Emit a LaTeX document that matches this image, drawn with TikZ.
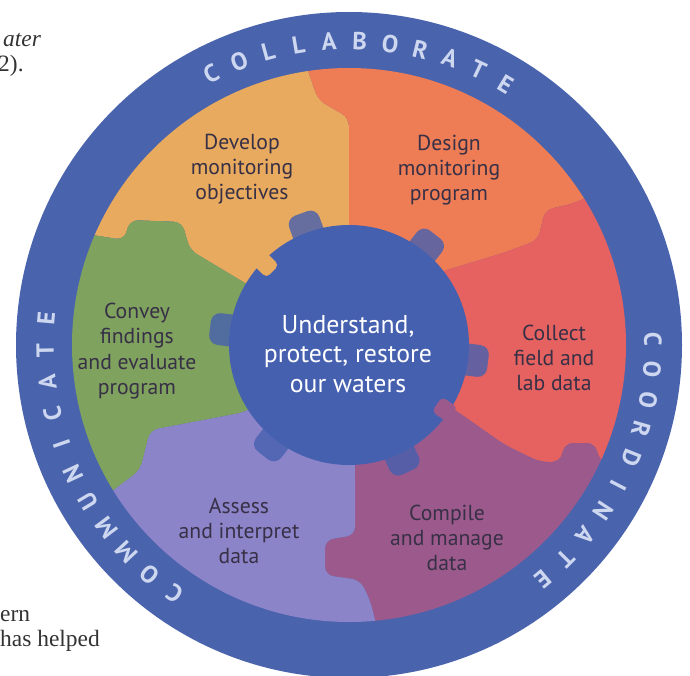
\documentclass[tikz,border=0pt]{standalone}
\usepackage{fontspec}
\setmainfont{PT Sans}
\newfontfamily\pagefont{Liberation Serif}
\definecolor{ringblue}{RGB}{74,99,173}
\definecolor{gearblue}{RGB}{70,96,176}
\definecolor{segyellow}{RGB}{232,170,94}
\definecolor{segorange}{RGB}{238,125,86}
\definecolor{segred}{RGB}{229,98,96}
\definecolor{segpurple}{RGB}{156,90,140}
\definecolor{seglavender}{RGB}{140,132,200}
\definecolor{seggreen}{RGB}{127,162,94}
\definecolor{ringink}{RGB}{205,215,240}
\definecolor{labelink}{RGB}{55,48,70}
\begin{document}
\begin{tikzpicture}[x=0.03cm, y=-0.03cm,
	piece/.style={rounded corners=7pt},
	steptext/.style={font=\fontsize{18.5}{21.5}\selectfont, text=labelink, align=center},
	hubtext/.style={font=\fontsize{22}{25}\selectfont, text=white, align=center},
	ringletter/.style={font=\bfseries\fontsize{21}{21}\selectfont, text=ringink, inner sep=0pt},
	pagetext/.style={font=\pagefont\fontsize{20}{24}\selectfont, text=black!80, anchor=base west, inner sep=0pt}]
	\useasboundingbox ( 0, 0 ) rectangle ( 690, 676 );

	% outer ring
	\fill [ringblue] ( 349, 345 ) circle [radius=333];

	% six puzzle pieces
	\begin{scope}
		\clip ( 349, 345 ) circle [radius=277];
		\fill [segyellow, piece] ( 349, 345 ) -- ( 240, 280 ) -- ( 190, 250 ) -- ( 182, 222 ) -- ( 130, 220 ) -- ( 124, 240 ) -- ( 0, 220 ) -- ( 0, 0 ) -- ( 300, 0 ) -- ( 305, 62 ) -- ( 318, 100 ) -- ( 349, 118 ) -- cycle;
		\fill [segorange, piece] ( 349, 345 ) -- ( 349, 118 ) -- ( 318, 100 ) -- ( 305, 62 ) -- ( 300, 0 ) -- ( 700, 0 ) -- ( 700, 130 ) -- ( 640, 170 ) -- ( 575, 203 ) -- ( 545, 210 ) -- ( 538, 240 ) -- ( 503, 253 ) -- ( 440, 272 ) -- cycle;
		\fill [segred, piece] ( 349, 345 ) -- ( 440, 272 ) -- ( 503, 253 ) -- ( 538, 240 ) -- ( 545, 210 ) -- ( 575, 203 ) -- ( 640, 170 ) -- ( 700, 130 ) -- ( 720, 480 ) -- ( 600, 462 ) -- ( 595, 443 ) -- ( 565, 443 ) -- ( 560, 462 ) -- ( 540, 462 ) -- ( 505, 445 ) -- ( 455, 410 ) -- cycle;
		\fill [segpurple, piece] ( 349, 345 ) -- ( 455, 410 ) -- ( 505, 445 ) -- ( 540, 462 ) -- ( 560, 462 ) -- ( 565, 443 ) -- ( 595, 443 ) -- ( 600, 462 ) -- ( 720, 480 ) -- ( 720, 700 ) -- ( 395, 700 ) -- ( 370, 600 ) -- ( 360, 580 ) -- ( 325, 575 ) -- ( 325, 540 ) -- ( 355, 535 ) -- ( 355, 470 ) -- cycle;
		\fill [seglavender, piece] ( 349, 345 ) -- ( 355, 470 ) -- ( 355, 535 ) -- ( 325, 540 ) -- ( 325, 575 ) -- ( 360, 580 ) -- ( 370, 600 ) -- ( 395, 700 ) -- ( 0, 700 ) -- ( 0, 560 ) -- ( 100, 500 ) -- ( 140, 470 ) -- ( 150, 430 ) -- ( 245, 412 ) -- cycle;
		\fill [seggreen, piece] ( 349, 345 ) -- ( 245, 412 ) -- ( 150, 430 ) -- ( 140, 470 ) -- ( 100, 500 ) -- ( 0, 560 ) -- ( 0, 220 ) -- ( 124, 240 ) -- ( 130, 220 ) -- ( 182, 222 ) -- ( 190, 250 ) -- ( 240, 280 ) -- cycle;
	\end{scope}

	% hub gear and ring words
	\begin{scope}[shift={( 349, 345 )}, y=0.03cm]
		\foreach \a in {110,52,-7,-65,-128,173}
			\fill [gearblue, fill opacity=0.8, rotate=\a, rounded corners=8pt] ( 100, -16 ) rectangle ( 140, 16 );
		\fill [gearblue] ( 0, 0 ) circle [radius=120];
		\fill [segyellow, rotate=136, rounded corners=4pt] ( 106, -9 ) rectangle ( 125, 9 );
		\fill [segpurple, rotate=-34, rounded corners=4pt] ( 106, -9 ) rectangle ( 125, 9 );

		\foreach \l [count=\i] in {C,O,L,L,A,B,O,R,A,T,E}
			\node [ringletter, rotate={117-(\i-1)*5.8-90}] (collab-\i) at ( {117-(\i-1)*5.8}:304 ) {\l};
		\foreach \l [count=\i] in {C,O,O,R,D,I,N,A,T,E}
			\node [ringletter, rotate={1-(\i-1)*5.7-90}] (coord-\i) at ( {1-(\i-1)*5.7}:304 ) {\l};
		\foreach \l [count=\i] in {C,O,M,M,U,N,I,C,A,T,E}
			\node [ringletter, rotate={235-(\i-1)*6-90}] (commun-\i) at ( {235-(\i-1)*6}:304 ) {\l};
	\end{scope}

	% step labels
	\node [steptext] (develop) at ( 242, 169 ) {Develop\\monitoring\\objectives};
	\node [steptext] (design) at ( 449, 170 ) {Design\\monitoring\\program};
	\node [steptext] (collect) at ( 554, 358 ) {Collect\\field and\\lab data};
	\node [steptext] (compile) at ( 447, 538 ) {Compile\\and manage\\data};
	\node [steptext] (assess) at ( 239, 531 ) {Assess\\and interpret\\data};
	\node [steptext] (convey) at ( 137, 351 ) {Convey\\findings\\and evaluate\\program};
	\node [hubtext] (hub) at ( 348, 354 ) {Understand,\\protect, restore\\our waters};

	% page text around the figure
	\node [pagetext, font=\pagefont\itshape\fontsize{20}{24}\selectfont] (pagetop) at ( 3, 47 ) {ater};
	\node [pagetext] (pageyear) at ( -2, 72 ) {2).};
	\node [pagetext] (pagelow) at ( 0, 621 ) {ern};
	\node [pagetext] (pagehelp) at ( 0, 646 ) {has helped};
\end{tikzpicture}
\end{document}
